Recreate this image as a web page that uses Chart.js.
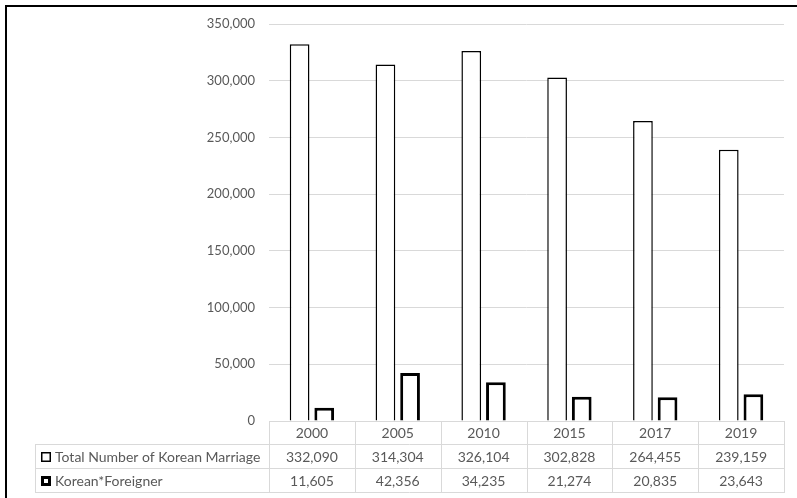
<!DOCTYPE html>
<html>
<head>
<meta charset="utf-8">
<script src="https://cdn.jsdelivr.net/npm/chart.js@4/dist/chart.umd.min.js"></script>
<style>
  html, body { margin: 0; padding: 0; background: #fff; }
  #wrap { width: 797px; height: 498px; position: relative; }
  canvas { display: block; }
</style>
</head>
<body>
<div id="wrap"><canvas id="chart" width="797" height="498"></canvas></div>
<script>
// Marriage counts by year
const years = ['2000', '2005', '2010', '2015', '2017', '2019'];
const totalMarriages = [332090, 314304, 326104, 302828, 264455, 239159];
const koreanForeigner = [11605, 42356, 34235, 21274, 20835, 23643];
const seriesNames = ['Total Number of Korean Marriage', 'Korean*Foreigner'];
const yTicks = [0, 50000, 100000, 150000, 200000, 250000, 300000, 350000];

const FONT = 'Lato, "Open Sans", sans-serif';
const TEXT = '#595959';
const GRID = '#d9d9d9';
const fmt = v => v.toLocaleString('en-US');

// Data table under the plot, with the legend keys in its first column
const dataTable = {
  id: 'dataTable',
  afterDraw(chart) {
    const ctx = chart.ctx;
    const x = chart.scales.x;
    const colW = x.getPixelForValue(1) - x.getPixelForValue(0);
    const colStart = x.getPixelForValue(0) - colW / 2;
    const colEnd = colStart + colW * years.length;
    const tableLeft = 35;
    const rows = [421, 444, 468, 492];

    ctx.save();
    ctx.strokeStyle = GRID;
    ctx.lineWidth = 1;
    const hline = (y, x1, x2) => { ctx.beginPath(); ctx.moveTo(x1, y + 0.5); ctx.lineTo(x2, y + 0.5); ctx.stroke(); };
    const vline = (xx, y1, y2) => { ctx.beginPath(); ctx.moveTo(Math.round(xx) + 0.5, y1); ctx.lineTo(Math.round(xx) + 0.5, y2); ctx.stroke(); };

    hline(rows[0], colStart, colEnd);
    for (let r = 1; r < rows.length; r++) hline(rows[r], tableLeft, colEnd);
    vline(tableLeft, rows[1], rows[3] + 1);
    for (let i = 0; i <= years.length; i++) vline(colStart + i * colW, rows[0], rows[3] + 1);

    ctx.fillStyle = TEXT;
    ctx.font = '14px ' + FONT;
    ctx.textBaseline = 'middle';
    ctx.textAlign = 'center';
    const rowValues = [years, totalMarriages.map(fmt), koreanForeigner.map(fmt)];
    for (let r = 0; r < 3; r++) {
      const cy = (rows[r] + rows[r + 1]) / 2 + 1;
      rowValues[r].forEach((t, i) => ctx.fillText(t, x.getPixelForValue(i), cy));
    }

    // legend keys and series names
    ctx.textAlign = 'left';
    chart.data.datasets.forEach((ds, k) => {
      const cy = (rows[k + 1] + rows[k + 2]) / 2 + 1;
      const bw = ds.borderWidth;
      ctx.fillStyle = '#fff';
      ctx.fillRect(41, cy - 5, 10, 10);
      ctx.strokeStyle = '#000';
      ctx.lineWidth = bw;
      ctx.strokeRect(41 + bw / 2, cy - 5 + bw / 2, 10 - bw, 10 - bw);
      ctx.fillStyle = TEXT;
      ctx.fillText(seriesNames[k], 55, cy);
    });
    ctx.restore();
  }
};

// Frame lines along the left and top edges
const frame = {
  id: 'frame',
  afterDraw(chart) {
    const ctx = chart.ctx;
    ctx.save();
    ctx.strokeStyle = '#000';
    ctx.lineWidth = 2;
    ctx.beginPath();
    ctx.moveTo(6, chart.height);
    ctx.lineTo(6, 6);
    ctx.lineTo(chart.width, 6);
    ctx.stroke();
    ctx.restore();
  }
};

new Chart(document.getElementById('chart'), {
  type: 'bar',
  data: {
    labels: years,
    datasets: [
      {
        label: seriesNames[0],
        data: totalMarriages,
        backgroundColor: '#ffffff',
        borderColor: '#000000',
        borderWidth: 1.5,
        borderSkipped: 'start'
      },
      {
        label: seriesNames[1],
        data: koreanForeigner,
        backgroundColor: '#ffffff',
        borderColor: '#000000',
        borderWidth: 3,
        borderSkipped: 'start'
      }
    ]
  },
  options: {
    responsive: false,
    animation: false,
    devicePixelRatio: 1,
    layout: { padding: { top: 24, right: 13, bottom: 77, left: 0 } },
    datasets: { bar: { categoryPercentage: 0.574, barPercentage: 0.8 } },
    plugins: { legend: { display: false }, tooltip: { enabled: false } },
    scales: {
      x: {
        display: false
      },
      y: {
        min: 0,
        max: 350000,
        afterBuildTicks(scale) { scale.ticks = yTicks.map(v => ({ value: v })); },
        afterFit(scale) { scale.width = 269; },
        border: { display: false },
        grid: { color: GRID, lineWidth: 1, drawTicks: false },
        ticks: {
          padding: 14,
          color: TEXT,
          font: { family: FONT, size: 13 },
          callback: v => fmt(v)
        }
      }
    }
  },
  plugins: [dataTable, frame]
});
</script>
</body>
</html>
